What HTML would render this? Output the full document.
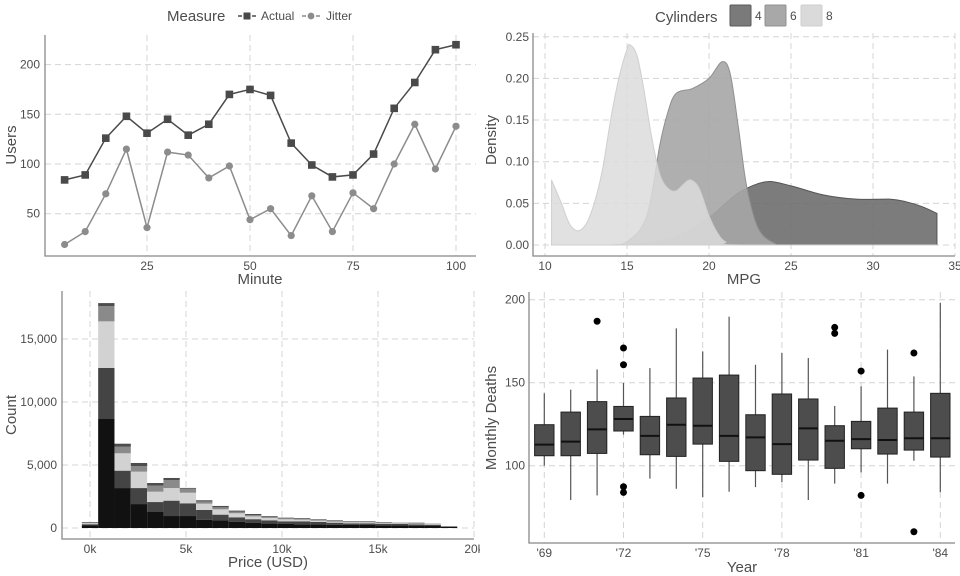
<!DOCTYPE html>
<html><head><meta charset="utf-8"><style>
html,body{margin:0;padding:0;background:#fff;}
svg{display:block;font-family:"Liberation Sans",sans-serif;}
.tick{font-size:12px;fill:#4d4d4d;}
.atitle{font-size:15px;fill:#4d4d4d;}
.grid{stroke:#d4d4d4;stroke-width:1;stroke-dasharray:6,4;fill:none;}
.axis{stroke:#888;stroke-width:1.3;fill:none;}
</style></head><body>
<svg id="chart" width="960" height="576" viewBox="0 0 960 576" xmlns="http://www.w3.org/2000/svg">
<defs><clipPath id="clip3"><rect x="0" y="288" width="480" height="288"/></clipPath></defs>
</svg>
<script>
// ---- Panel 1 data ----
const minutes = [5,10,15,20,25,30,35,40,45,50,55,60,65,70,75,80,85,90,95,100];
const actualUsers = [84,89,126,148,131,145,129,140,170,175,169,121,99,87,89,110,156,182,215,220];
const jitterUsers = [19,32,70,115,36,112,109,86,98,44,55,28,68,32,71,55,100,140,95,138];
const usersTicks = [50,100,150,200];
const minuteTicks = [25,50,75,100];
// ---- Panel 2 data ----
const mpgTicks = [10,15,20,25,30,35];
const densityTicks = [0,0.05,0.10,0.15,0.20,0.25];
const cyl4X = [10.4,14,16,18,20,21,22,23.5,25,27,29,31,32,33,33.9];
const cyl4Y = [0,0,0.002,0.01,0.033,0.05,0.065,0.076,0.071,0.06,0.055,0.055,0.052,0.046,0.038];
const cyl6X = [10.4,14,15,16,16.5,17,17.5,18,19,20,20.8,21.3,21.8,22.3,23,24,25,33.9];
const cyl6Y = [0,0,0.004,0.025,0.06,0.12,0.16,0.182,0.188,0.2,0.22,0.205,0.14,0.07,0.02,0.002,0,0];
const cyl8X = [10.4,11,11.5,12,12.5,13,13.5,14,14.5,15,15.2,15.6,16,16.5,17,17.5,18,18.5,18.9,19.4,20,20.5,21,22,33.9];
const cyl8Y = [0.078,0.05,0.025,0.017,0.025,0.05,0.09,0.15,0.2,0.235,0.24,0.228,0.19,0.13,0.085,0.068,0.065,0.074,0.078,0.068,0.035,0.015,0.004,0,0];
// ---- Panel 3 data ----
const binCenters = [0,850,1700,2550,3400,4250,5100,5950,6800,7650,8500,9350,10200,11050,11900,12750,13600,14450,15300,16150,17000,17850,18700];
const countFair = [200,8650,3170,1900,1270,950,950,660,620,480,400,350,320,290,290,260,240,240,210,210,190,160,90];
const countGood = [100,4050,1380,1270,790,1220,1010,770,440,370,300,260,210,240,190,160,130,130,110,110,100,80,30];
const countVeryGood = [80,3700,1380,1300,820,1000,840,500,420,320,220,190,160,130,100,80,80,80,50,50,50,50,10];
const countPremium = [50,1200,520,450,480,640,330,180,160,130,110,100,80,80,60,60,30,30,30,30,30,30,10];
const countIdeal = [40,250,240,240,210,160,50,90,110,80,80,50,50,50,50,50,50,50,50,20,50,20,10];
const priceTicks = [0,5000,10000,15000,20000];
const priceTickLabels = ["0k","5k","10k","15k","20k"];
const countTicks = [0,5000,10000,15000];
const countTickLabels = ["0","5,000","10,000","15,000"];
// ---- Panel 4 data ----
const years = [1969,1970,1971,1972,1973,1974,1975,1976,1977,1978,1979,1980,1981,1982,1983,1984];
const whiskLow = [100,79.3,82.1,118.7,92.2,86.1,81.1,84.3,87.1,90.2,79.3,89.2,96,89.2,103,84.1];
const q1 = [106,106,107.4,120.9,106.6,105.6,113,102.6,97,94.8,103.4,98.4,110.2,107,109.4,105.2];
const med = [112.7,114.5,121.9,128.1,118,124.7,124.1,118,117.1,113,122.5,115,116,115.5,116.5,116.5];
const q3 = [124.7,132.3,138.6,135.7,129.7,140.8,152.8,154.6,130.7,143.2,140.2,124.1,126.7,134.7,132.3,143.6];
const whiskHigh = [143.6,145.8,158,149.8,158.8,182.7,168.9,189.8,160.8,167.9,164.9,136,147.8,169.9,153.8,198];
const outlierYears = [1971,1972,1972,1972,1972,1980,1980,1981,1981,1983,1983];
const outlierValues = [187,170.9,160.8,87.3,83.9,183.3,179.7,157,82.1,167.9,60.2];
const deathTicks = [100,150,200];
const yearTicks = [1969,1972,1975,1978,1981,1984];

const svg = document.getElementById('chart');
const NS = 'http://www.w3.org/2000/svg';
function mk(tag, attrs, parent, text){
  const e = document.createElementNS(NS, tag);
  for (const k in attrs) e.setAttribute(k, attrs[k]);
  if (text !== undefined) e.textContent = text;
  (parent || svg).appendChild(e);
  return e;
}
function grp(name){
  const g = mk('g', {});
  
  
  return g;
}

// ================= Panel 1 =================
(function(){
  const g = grp('line-chart-users');
  const X = v => 44 + v*4.12;
  const Y = v => 263.4 - v*0.994;
  const L=45,R=476,T=35,B=256;
  usersTicks.forEach(t=>{
    const l = mk('line',{x1:L,x2:R,y1:Y(t),y2:Y(t),class:'grid'},g);
    
    
    const tx = mk('text',{x:L-5,y:Y(t)+4,'text-anchor':'end',class:'tick'},g,String(t));
    
    
  });
  minuteTicks.forEach(t=>{
    const l = mk('line',{x1:X(t),x2:X(t),y1:T,y2:B,class:'grid'},g);
    
    
    const tx = mk('text',{x:X(t),y:B+14,'text-anchor':'middle',class:'tick'},g,String(t));
    
    
  });
  const ax = mk('path',{d:`M${L},${T}V${B}H${R}`,class:'axis'},g);
  
  
  const lj = mk('polyline',{points:minutes.map((m,i)=>X(m)+','+Y(jitterUsers[i])).join(' '),fill:'none',stroke:'#8c8c8c','stroke-width':1.5},g);
  
  
  const la = mk('polyline',{points:minutes.map((m,i)=>X(m)+','+Y(actualUsers[i])).join(' '),fill:'none',stroke:'#4a4a4a','stroke-width':1.5},g);
  
  
  minutes.forEach((m,i)=>{
    const c = mk('circle',{cx:X(m),cy:Y(jitterUsers[i]),r:3.6,fill:'#8c8c8c'},g);
    
    
    const s = mk('rect',{x:X(m)-3.8,y:Y(actualUsers[i])-3.8,width:7.6,height:7.6,fill:'#4a4a4a'},g);
    
    
  });
  const yt = mk('text',{x:16,y:145,'text-anchor':'middle',class:'atitle',transform:'rotate(-90 16 145)'},g,'Users');
  
  
  const xt = mk('text',{x:260,y:284,'text-anchor':'middle',class:'atitle'},g,'Minute');
  
  
  const lg = mk('g',{},g);
  
  
  mk('text',{x:167,y:21,class:'atitle','font-size':'14px'},lg,'Measure');
  mk('line',{x1:238,x2:256,y1:16,y2:16,stroke:'#4a4a4a','stroke-width':1.5,'stroke-dasharray':'4,3'},lg);
  mk('rect',{x:243.5,y:12.5,width:7,height:7,fill:'#4a4a4a'},lg);
  mk('text',{x:261,y:20,class:'tick'},lg,'Actual');
  mk('line',{x1:302,x2:320,y1:16,y2:16,stroke:'#8c8c8c','stroke-width':1.5,'stroke-dasharray':'4,3'},lg);
  mk('circle',{cx:311,cy:16,r:3.4,fill:'#8c8c8c'},lg);
  mk('text',{x:326,y:20,class:'tick'},lg,'Jitter');
})();

// ================= Panel 2 =================
(function(){
  const g = grp('density-chart-mpg');
  const X = v => 545 + (v-10)*16.4;
  const Y = v => 245 - v*833;
  const L=533,R=955,T=33,B=256;
  densityTicks.forEach(t=>{
    const l = mk('line',{x1:L,x2:R,y1:Y(t),y2:Y(t),class:'grid'},g);
    
    
    const tx = mk('text',{x:L-4,y:Y(t)+4,'text-anchor':'end',class:'tick'},g,t.toFixed(2));
    
    
  });
  mpgTicks.forEach(t=>{
    const l = mk('line',{x1:X(t),x2:X(t),y1:T,y2:B,class:'grid'},g);
    
    
    const tx = mk('text',{x:X(t),y:B+14,'text-anchor':'middle',class:'tick'},g,String(t));
    
    
  });
  function area(xs, ys, fill, stroke, op, name){
    const P = xs.map((x,i)=>[X(x),Y(ys[i])]);
    let d = `M${P[0][0]},${Y(0)} L${P[0][0]},${P[0][1]}`;
    for (let i=0;i<P.length-1;i++){
      const p0 = P[Math.max(0,i-1)], p1 = P[i], p2 = P[i+1], p3 = P[Math.min(P.length-1,i+2)];
      let c1y = p1[1] + (p2[1]-p0[1])/6, c2y = p2[1] - (p3[1]-p1[1])/6;
      c1y = Math.min(c1y, Y(0)); c2y = Math.min(c2y, Y(0));
      d += ` C${p1[0]+(p2[0]-p0[0])/6},${c1y} ${p2[0]-(p3[0]-p1[0])/6},${c2y} ${p2[0]},${p2[1]}`;
    }
    d += ` L${P[P.length-1][0]},${Y(0)}Z`;
    const p = mk('path',{d:d,fill:fill,stroke:stroke,'stroke-width':1,'fill-opacity':op,'stroke-linejoin':'round'},g);
    
    
  }
  area(cyl4X,cyl4Y,'#6e6e6e','#555',0.9,'density-4-cyl');
  area(cyl6X,cyl6Y,'#a6a6a6','#909090',0.9,'density-6-cyl');
  area(cyl8X,cyl8Y,'#dcdcdc','#cfcfcf',0.85,'density-8-cyl');
  const ax = mk('path',{d:`M${L},${T}V${B}H${R}`,class:'axis'},g);
  
  
  const yt = mk('text',{x:496,y:140,'text-anchor':'middle',class:'atitle',transform:'rotate(-90 496 140)'},g,'Density');
  
  
  const xt = mk('text',{x:744,y:284,'text-anchor':'middle',class:'atitle'},g,'MPG');
  
  
  const lg = mk('g',{},g);
  
  
  mk('text',{x:655,y:22,class:'atitle','font-size':'14px'},lg,'Cylinders');
  [['#7a7a7a','#5a5a5a','4',730],['#a8a8a8','#909090','6',765],['#dadada','#cfcfcf','8',801]].forEach(a=>{
    mk('rect',{x:a[3],y:5,width:21,height:21,fill:a[0],stroke:a[1],'stroke-width':1,rx:1},lg);
    mk('text',{x:a[3]+25,y:20,class:'tick'},lg,a[2]);
  });
})();

// ================= Panel 3 =================
(function(){
  const g = grp('histogram-price');
  g.setAttribute('clip-path','url(#clip3)');
  const X = v => 90 + v*0.0192;
  const Y = v => 528 - v*0.0126;
  const L=62,R=474,T=291,B=539;
  countTicks.forEach((t,i)=>{
    const l = mk('line',{x1:L,x2:R,y1:Y(t),y2:Y(t),class:'grid'},g);
    
    
    const tx = mk('text',{x:L-5,y:Y(t)+4,'text-anchor':'end',class:'tick'},g,countTickLabels[i]);
    
    
  });
  priceTicks.forEach((t,i)=>{
    const l = mk('line',{x1:X(t),x2:X(t),y1:T,y2:B,class:'grid'},g);
    
    
    const tx = mk('text',{x:X(t),y:B+14,'text-anchor':'middle',class:'tick'},g,priceTickLabels[i]);
    
    
  });
  const series = [countFair,countGood,countVeryGood,countPremium,countIdeal];
  const colors = ['#111111','#444444','#d2d2d2','#8a8a8a','#4d4d4d'];
  const names = ['bar-fair','bar-good','bar-very-good','bar-premium','bar-ideal'];
  const bw = 850;
  binCenters.forEach((c,i)=>{
    let cum = 0;
    series.forEach((s,k)=>{
      const y0 = Y(cum), y1 = Y(cum + s[i]);
      cum += s[i];
      const r = mk('rect',{x:X(c-bw/2),y:y1,width:X(c+bw/2)-X(c-bw/2),height:Math.max(0,y0-y1),fill:colors[k]},g);
      
      
    });
  });
  const ax = mk('path',{d:`M${L},${T}V${B}H${R}`,class:'axis'},g);
  
  
  const yt = mk('text',{x:16,y:415,'text-anchor':'middle',class:'atitle',transform:'rotate(-90 16 415)'},g,'Count');
  
  
  const xt = mk('text',{x:268,y:567,'text-anchor':'middle',class:'atitle'},g,'Price (USD)');
  
  
})();

// ================= Panel 4 =================
(function(){
  const g = grp('boxplot-deaths');
  const X = v => 544.3 + (v-1969)*26.4;
  const Y = v => 465.7 - (v-100)*1.66;
  const L=529,R=955,T=292,B=543;
  deathTicks.forEach(t=>{
    const l = mk('line',{x1:L,x2:R,y1:Y(t),y2:Y(t),class:'grid'},g);
    
    
    const tx = mk('text',{x:L-4,y:Y(t)+4,'text-anchor':'end',class:'tick'},g,String(t));
    
    
  });
  yearTicks.forEach(t=>{
    const l = mk('line',{x1:X(t),x2:X(t),y1:T,y2:B,class:'grid'},g);
    
    
    const tx = mk('text',{x:X(t),y:B+14,'text-anchor':'middle',class:'tick'},g,"'"+String(t).slice(2));
    
    
  });
  const hw = 9.7;
  years.forEach((yr,i)=>{
    const cx = X(yr);
    const w = mk('line',{x1:cx,x2:cx,y1:Y(whiskHigh[i]),y2:Y(whiskLow[i]),stroke:'#555','stroke-width':1.2},g);
    
    
    const b = mk('rect',{x:cx-hw,y:Y(q3[i]),width:hw*2,height:Y(q1[i])-Y(q3[i]),fill:'#4d4d4d',stroke:'#222','stroke-width':1},g);
    
    
    const m = mk('line',{x1:cx-hw,x2:cx+hw,y1:Y(med[i]),y2:Y(med[i]),stroke:'#111','stroke-width':2},g);
    
    
  });
  outlierYears.forEach((yr,i)=>{
    const c = mk('circle',{cx:X(yr),cy:Y(outlierValues[i]),r:3.5,fill:'#000'},g);
    
    
  });
  const ax = mk('path',{d:`M${L},${T}V${B}H${R}`,class:'axis'},g);
  
  
  const yt = mk('text',{x:496,y:418,'text-anchor':'middle',class:'atitle',transform:'rotate(-90 496 418)'},g,'Monthly Deaths');
  
  
  const xt = mk('text',{x:742,y:572,'text-anchor':'middle',class:'atitle'},g,'Year');
  
  
})();
</script>
</body></html>
